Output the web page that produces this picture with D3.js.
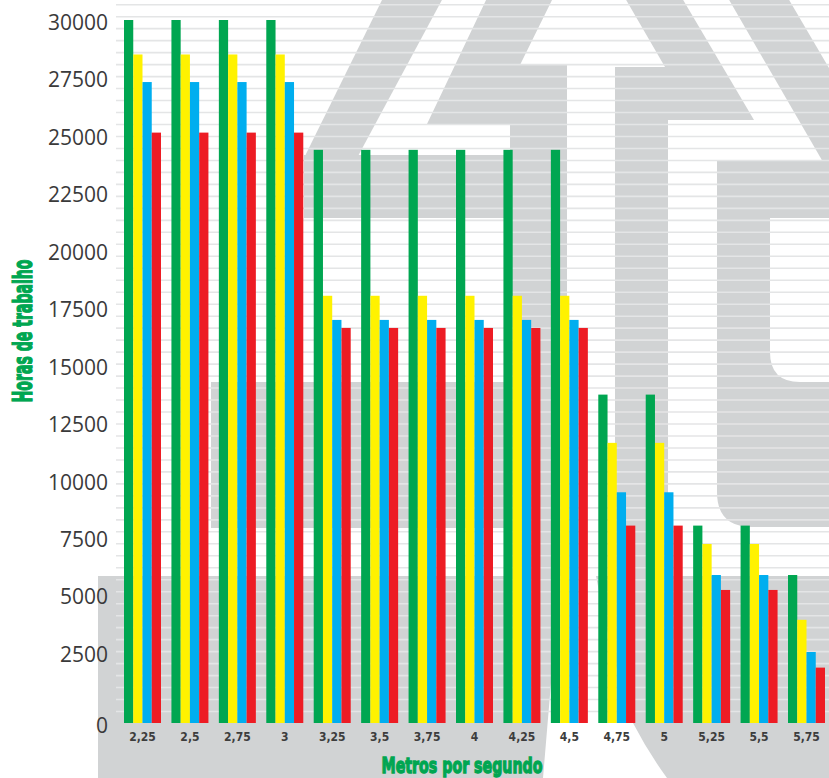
<!DOCTYPE html>
<html>
<head>
<meta charset="utf-8">
<script src="https://cdn.jsdelivr.net/npm/d3@7"></script>
<style>
  html, body { margin: 0; padding: 0; background: #fff; }
  svg { display: block; }
</style>
</head>
<body>
<svg id="chart" width="829" height="778"></svg>
<script>
// Wind speed classes (m/s) shown along the x axis
const categories = ["2,25", "2,5", "2,75", "3", "3,25", "3,5", "3,75", "4", "4,25", "4,5", "4,75", "5", "5,25", "5,5", "5,75"];

// Working hours for each of the four series
const seriesKeys = ["verde", "amarelo", "azul", "vermelho"];
const horasVerde    = [30000, 30000, 30000, 30000, 24350, 24350, 24350, 24350, 24350, 24350, 13700, 13700, 8000, 8000, 5850];
const horasAmarelo  = [28500, 28500, 28500, 28500, 18000, 18000, 18000, 18000, 18000, 18000, 11600, 11600, 7200, 7200, 3900];
const horasAzul     = [27300, 27300, 27300, 27300, 16950, 16950, 16950, 16950, 16950, 16950, 9450, 9450, 5850, 5850, 2500];
const horasVermelho = [25100, 25100, 25100, 25100, 16600, 16600, 16600, 16600, 16600, 16600, 8000, 8000, 5200, 5200, 1950];

const yTickValues = [0, 2500, 5000, 7500, 10000, 12500, 15000, 17500, 20000, 22500, 25000, 27500, 30000];

const seriesColors = { verde: "#00a651", amarelo: "#fff200", azul: "#00aeef", vermelho: "#ed1c24" };
const seriesData = { verde: horasVerde, amarelo: horasAmarelo, azul: horasAzul, vermelho: horasVermelho };

const W = 829, H = 778;
const svg = d3.select("#chart");
svg.append("rect").attr("width", W).attr("height", H).attr("fill", "#ffffff");

// ---- grey logo watermark behind the plot ----
const logoGrey = "#d1d3d4";
const logoShapes = [
  [[383, -2], [443, -2], [357, 158], [304, 158]],              // left outer stroke
  [[304, 155], [567, 155], [567, 218], [304, 218]],            // crossbar
  [[487, -2], [553, -2], [520, 65], [567, 65], [567, 124], [427, 124]], // inner stroke + arm
  [[510, 120], [567, 120], [567, 580], [510, 580]],            // left stem
  [[211, 382], [515, 382], [515, 528], [211, 528]],            // lower block
  [[625, -2], [682, -2], [754, 120], [615, 120], [615, 67], [665, 67]], // right stroke + arm
  [[615, 118], [668, 118], [668, 580], [615, 580]],            // right stem
  [[728, -2], [788, -2], [829, 68], [829, 162], [823, 162]],   // far right stroke
  [[98, 576], [829, 576], [829, 778], [98, 778]]               // base
];
const logo = svg.append("g").attr("class", "logo");
logo.selectAll("polygon").data(logoShapes).join("polygon")
  .attr("points", d => d.map(p => p.join(",")).join(" "))
  .attr("fill", logoGrey);
// the "U" form on the right
logo.append("path").attr("fill", logoGrey)
  .attr("d", "M717,160 H829 V527 H752 Q717,527 717,492 Z");
logo.append("path").attr("fill", "#ffffff")
  .attr("d", "M770,218 H829 V382 H800 Q770,382 770,352 Z");
// opening in the base
logo.append("path").attr("fill", "#ffffff")
  .attr("d", "M560,576 L596,576 Q612,660 633,723 Q648,752 667,778 L543,778 Z");

// ---- horizontal stripes over the whole plot ----
const stripeScale = d3.scaleLinear().domain([0, 60]).range([723.5, 4.7]);
svg.append("g").attr("class", "stripes")
  .selectAll("line").data(d3.range(1, 62)).join("line")
  .attr("x1", 116).attr("x2", W)
  .attr("y1", d => stripeScale(d)).attr("y2", d => stripeScale(d))
  .attr("stroke", "#e4e5e6").attr("stroke-width", 1.6);

// ---- scales ----
const x0 = d3.scaleBand().domain(categories).range([124, 825]).paddingInner(0.22).paddingOuter(0);
const x1 = d3.scaleBand().domain(seriesKeys).range([0, x0.bandwidth()]);
const y = d3.scaleLinear().domain([0, 2500, 30000]).range([723, 652, 20]);

const rows = categories.map((c, i) => ({
  cat: c,
  values: seriesKeys.map(k => ({ key: k, value: seriesData[k][i] }))
}));

// ---- bars ----
const groups = svg.append("g").attr("class", "bars")
  .selectAll("g").data(rows).join("g")
  .attr("transform", d => `translate(${x0(d.cat)},0)`);
groups.selectAll("rect").data(d => d.values).join("rect")
  .attr("x", d => x1(d.key))
  .attr("y", d => y(d.value))
  .attr("width", x1.bandwidth())
  .attr("height", d => y(0) - y(d.value))
  .attr("fill", d => seriesColors[d.key]);

// ---- y axis ----
const yAxis = svg.append("g").attr("transform", "translate(108,0)")
  .call(d3.axisLeft(y).tickValues(yTickValues).tickSize(0).tickPadding(0).tickFormat(d3.format("d")));
yAxis.select(".domain").remove();
yAxis.selectAll("text")
  .attr("dy", "0.45em")
  .attr("fill", "#3a3a3a")
  .style("font-family", "'Open Sans', 'DejaVu Sans', sans-serif")
  .style("font-size", "21px");

// ---- x axis ----
const xAxis = svg.append("g").attr("transform", "translate(0,723)")
  .call(d3.axisBottom(x0).tickSize(0).tickPadding(9));
xAxis.select(".domain").remove();
xAxis.selectAll("text")
  .attr("fill", "#3d3d3d")
  .style("font-family", "'DejaVu Sans Condensed', 'DejaVu Sans', sans-serif")
  .style("font-stretch", "condensed")
  .style("font-weight", "bold")
  .style("font-size", "12px");

// ---- axis titles ----
const titleFont = "'DejaVu Sans Condensed', 'DejaVu Sans', sans-serif";
svg.append("text")
  .attr("transform", "translate(32,331) rotate(-90)")
  .attr("text-anchor", "middle")
  .attr("textLength", 143).attr("lengthAdjust", "spacingAndGlyphs")
  .attr("fill", "#00a651").attr("stroke", "#00a651").attr("stroke-width", 1.3)
  .style("font-family", titleFont).style("font-stretch", "condensed")
  .style("font-weight", "bold").style("font-size", "26px")
  .text("Horas de trabalho");

svg.append("text")
  .attr("x", 462).attr("y", 773)
  .attr("text-anchor", "middle")
  .attr("textLength", 161).attr("lengthAdjust", "spacingAndGlyphs")
  .attr("fill", "#00a651").attr("stroke", "#00a651").attr("stroke-width", 1.3)
  .style("font-family", titleFont).style("font-stretch", "condensed")
  .style("font-weight", "bold").style("font-size", "22px")
  .text("Metros por segundo");
</script>
</body>
</html>
